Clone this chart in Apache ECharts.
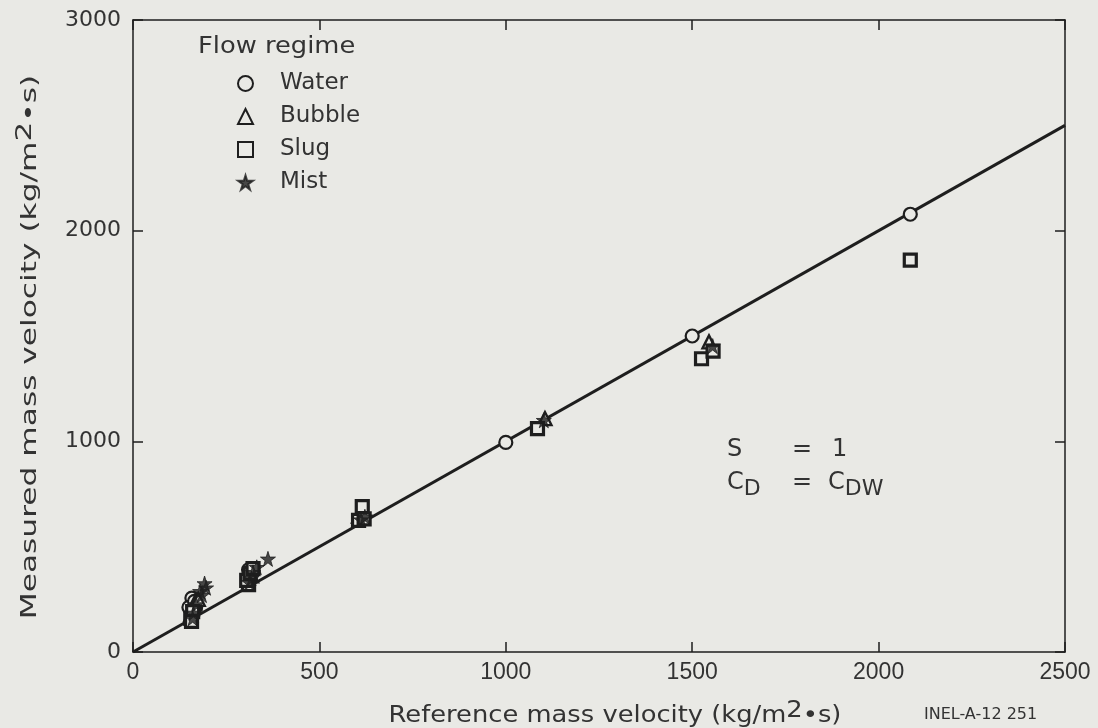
<!DOCTYPE html>
<html><head><meta charset="utf-8">
<script src="https://cdn.jsdelivr.net/npm/echarts@6/dist/echarts.min.js"></script>
<style>html,body{margin:0;padding:0;background:#e9e9e5;}#c{width:1098px;height:728px;}</style>
</head><body><div id="c"></div>
<script>
var xTicks = [0, 500, 1000, 1500, 2000, 2500];
var yTicks = [0, 1000, 2000, 3000];
var lineData = [[0, 0], [2500, 2500]];
var water = [[158,256],[150,212],[168,212],[165,240],[310,390],[615,640],[1000,995],[1500,1500],[2085,2078]];
var bubble = [[165,232],[155,178],[175,250],[318,362],[605,645],[1105,1108],[1545,1472]];
var slug = [[155,160],[160,192],[157,145],[310,320],[305,340],[314,372],[322,396],[615,690],[605,625],[620,632],[1085,1060],[1525,1392],[1556,1428],[2085,1860]];
var mist = [[192,325],[180,288],[196,305],[185,270],[170,225],[162,185],[160,160],[332,402],[362,442],[318,350],[312,330],[322,378],[622,642],[612,628],[1102,1100],[1555,1452]];

var BG = '#e9e9e5', INK = '#1e1e1e', TXT = '#333';
var FONT = 'DejaVu Sans';
function openSeries(name, sym, data, size, bw) {
  return {type:'scatter', name:name, data:data, symbol:sym, symbolSize:size, z:5,
    itemStyle:{color:BG, borderColor:INK, borderWidth:bw, opacity:1}};
}
function frameAxis(extra) {
  var base = {type:'value', splitLine:{show:false},
    axisLine:{onZero:false, lineStyle:{color:INK, width:1.5}},
    axisTick:{inside:true, length:10, lineStyle:{color:INK, width:1.5}}};
  for (var k in extra) base[k] = extra[k];
  return base;
}
var chart = echarts.init(document.getElementById('c'), null, {renderer:'canvas'});
chart.setOption({
  backgroundColor: BG,
  animation:false,
  textStyle:{fontFamily:FONT},
  grid:{left:133, right:33, top:20, bottom:76},
  xAxis:[frameAxis({min:0, max:2500, interval:500, position:'bottom',
      axisLabel:{color:TXT, fontSize:23, fontFamily:'Liberation Sans', margin:9, formatter:function(v){return xTicks.indexOf(v)>=0?String(v):'';}}}),
    frameAxis({min:0, max:2500, interval:500, position:'top', axisLabel:{show:false}})],
  yAxis:[frameAxis({min:0, max:3000, interval:1000, position:'left',
      axisLabel:{color:TXT, fontSize:22, fontFamily:FONT, margin:12, formatter:function(v){return yTicks.indexOf(v)>=0?String(v):'';}}}),
    frameAxis({min:0, max:3000, interval:1000, position:'right', axisLabel:{show:false}})],
  legend:{orient:'vertical', left:232, top:67, itemGap:10, itemWidth:15, itemHeight:15,
    textStyle:{color:TXT, fontSize:23, fontFamily:FONT, padding:[0,0,0,22]},
    data:['Water','Bubble','Slug','Mist']},
  series:[
    {type:'line', name:'fit', data:lineData, symbol:'none', z:2, lineStyle:{color:INK, width:3}, silent:true},
    openSeries('Water','circle',water,13,2.2),
    openSeries('Bubble','triangle',bubble,13,2.4),
    openSeries('Slug','rect',slug,12,3.2),
    {type:'scatter', name:'Mist', data:mist, symbol:'path://M50,0 L61,35 L98,35 L68,57 L79,92 L50,70 L21,92 L32,57 L2,35 L39,35 Z', symbolSize:15, z:6,
      itemStyle:{color:INK, borderColor:INK, borderWidth:1}}
  ],
  graphic:[
    {type:'text', x:198, y:47, scaleX:1.12, style:{text:'Flow regime', fill:TXT, font:'23px "DejaVu Sans"', verticalAlign:'middle'}},
    {type:'text', x:615, y:716, scaleX:1.12, style:{text:'Reference mass velocity (kg/m{sup|2}•s)', fill:TXT, font:'23px "DejaVu Sans"',
      align:'center', verticalAlign:'middle', rich:{sup:{font:'23px "DejaVu Sans"', fill:TXT, padding:[0,0,9,0]}}}},
    {type:'text', x:30, y:347, rotation:Math.PI/2, scaleX:1.42, style:{text:'Measured mass velocity (kg/m{sup|2}•s)', fill:TXT, font:'22px "DejaVu Sans"',
      align:'center', verticalAlign:'middle', rich:{sup:{font:'22px "DejaVu Sans"', fill:TXT, padding:[0,0,9,0]}}}},
    {type:'text', left:727, top:438, style:{text:'S', fill:TXT, font:'24px "DejaVu Sans"'}},
    {type:'text', left:792, top:438, style:{text:'=', fill:TXT, font:'24px "DejaVu Sans"'}},
    {type:'text', left:832, top:438, style:{text:'1', fill:TXT, font:'24px "DejaVu Sans"'}},
    {type:'text', left:727, top:471, style:{text:'C{sub|D}', fill:TXT, font:'24px "DejaVu Sans"',
      rich:{sub:{font:'22px "DejaVu Sans"', fill:TXT, padding:[12,0,0,0]}}}},
    {type:'text', left:792, top:471, style:{text:'=', fill:TXT, font:'24px "DejaVu Sans"'}},
    {type:'text', left:828, top:471, style:{text:'C{sub|DW}', fill:TXT, font:'24px "DejaVu Sans"',
      rich:{sub:{font:'22px "DejaVu Sans"', fill:TXT, padding:[12,0,0,0]}}}},
    {type:'text', left:924, top:707, style:{text:'INEL-A-12 251', fill:TXT, font:'16px "DejaVu Sans"'}}
  ]
});
</script></body></html>
